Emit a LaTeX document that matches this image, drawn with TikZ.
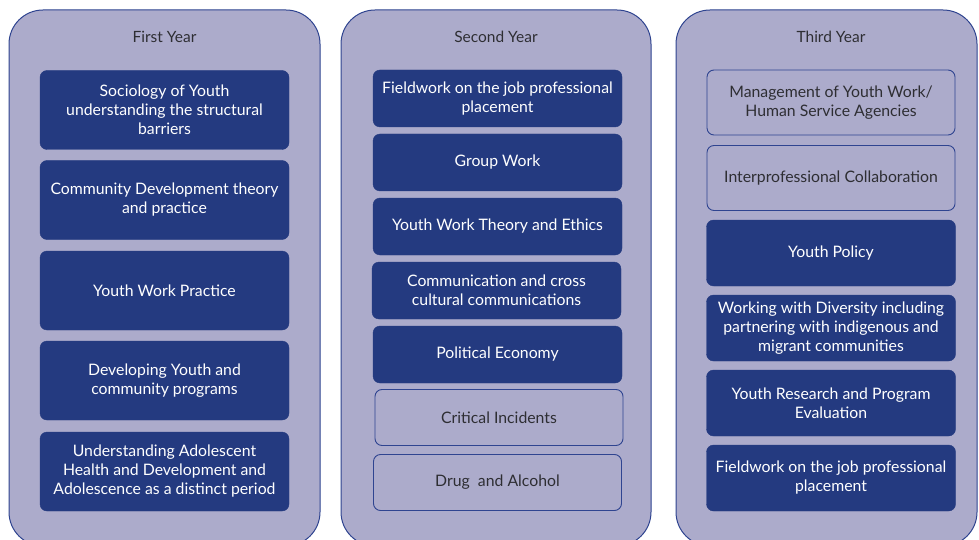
\documentclass[tikz,border=0pt]{standalone}
\usepackage{fontspec}
\setmainfont{Lato}
\definecolor{panelfill}{HTML}{ACABCB}
\definecolor{panelline}{HTML}{2F4490}
\definecolor{boxfill}{HTML}{243A80}
\definecolor{txtdark}{HTML}{2E2E33}
\tikzset{
  panel/.style={draw=panelline, line width=1pt, fill=panelfill, rounded corners=34pt},
  ttl/.style={text=txtdark, font=\fontsize{15.5}{19}\selectfont, anchor=center},
  darkbox/.style={fill=boxfill, draw=boxfill, rounded corners=7pt, text=white,
    align=center, font=\fontsize{15.8}{19}\selectfont, inner sep=0pt},
  lightbox/.style={fill=panelfill, draw=panelline, line width=0.9pt, rounded corners=7pt, text=txtdark,
    align=center, font=\fontsize{15.8}{19}\selectfont, inner sep=0pt},
}
\begin{document}
\begin{tikzpicture}[x=1pt,y=-1pt]
\useasboundingbox (0,0) rectangle (979,540);
\clip (0,0) rectangle (979,540);
\fill[white] (0,0) rectangle (979,540);
% panels
\draw[panel] (9,10) rectangle (320,546);
\draw[panel] (341,10) rectangle (651,546);
\draw[panel] (676,10) rectangle (977,546);
\node[ttl] (t1) at (164.5,37) {First Year};
\node[ttl] (t2) at (496,37) {Second Year};
\node[ttl] (t3) at (831,37) {Third Year};
% first year
\node[darkbox, minimum width=249pt, minimum height=79pt] (a1) at (164.5,110) {Sociology of Youth\\understanding the structural\\barriers};
\node[darkbox, minimum width=249pt, minimum height=79pt] (a2) at (164.5,200) {Community Development theory\\and practice};
\node[darkbox, minimum width=249pt, minimum height=79pt] (a3) at (164.5,290.5) {Youth Work Practice};
\node[darkbox, minimum width=249pt, minimum height=79pt] (a4) at (164.5,380.5) {Developing Youth and\\community programs};
\node[darkbox, minimum width=249pt, minimum height=79pt] (a5) at (164.5,471.5) {Understanding Adolescent\\Health and Development and\\Adolescence as a distinct period};
% second year
\node[darkbox, minimum width=249pt, minimum height=57pt] (b1) at (497.5,98.5) {Fieldwork on the job professional\\placement};
\node[darkbox, minimum width=249pt, minimum height=57pt] (b2) at (497.5,162.5) {Group Work};
\node[darkbox, minimum width=249pt, minimum height=57pt] (b3) at (497.5,226.5) {Youth Work Theory and Ethics};
\node[darkbox, minimum width=249pt, minimum height=57pt] (b4) at (496.5,290.5) {Communication and cross\\cultural communications};
\node[darkbox, minimum width=249pt, minimum height=57pt] (b5) at (497.5,354.5) {Political Economy};
\node[lightbox, minimum width=248pt, minimum height=56pt] (b6) at (499,417.5) {Critical Incidents};
\node[lightbox, minimum width=248pt, minimum height=56pt] (b7) at (497.5,482.5) {Drug\ \ and Alcohol};
% third year
\node[lightbox, minimum width=248pt, minimum height=65pt] (c1) at (831,102.5) {Management of Youth Work/\\Human Service Agencies};
\node[lightbox, minimum width=248pt, minimum height=65pt] (c2) at (831,178) {Interprofessional Collaboration};
\node[darkbox, minimum width=249pt, minimum height=66pt] (c3) at (831,253) {Youth Policy};
\node[darkbox, minimum width=249pt, minimum height=66pt] (c4) at (831,328) {Working with Diversity including\\partnering with indigenous and\\migrant communities};
\node[darkbox, minimum width=249pt, minimum height=66pt] (c5) at (831,403) {Youth Research and Program\\Evaluation};
\node[darkbox, minimum width=249pt, minimum height=66pt] (c6) at (831,478) {Fieldwork on the job professional\\placement};
\end{tikzpicture}
\end{document}
